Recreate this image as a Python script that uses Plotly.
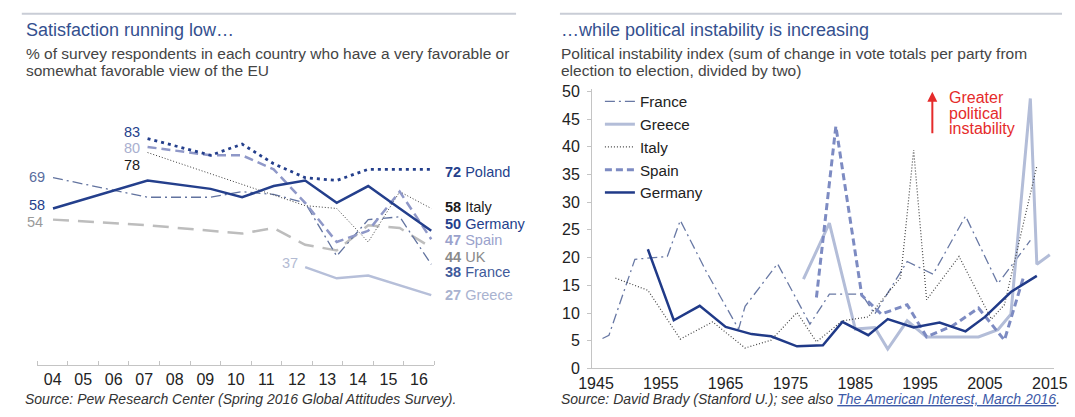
import plotly.graph_objects as go

W, H = 1075, 417

# ---- Left panel: favourable view of the EU (% of respondents), Pew survey years
pew_years = [2004, 2007, 2009, 2010, 2011, 2012, 2013, 2014, 2015, 2016]
year_labels = ["04", "05", "06", "07", "08", "09", "10", "11", "12", "13", "14", "15", "16"]
fav_poland = [None, 83, 77, 81, 74, 69, 68, 72, 72, 72]
fav_italy = [None, 78, None, None, None, 59, 58, 46, 64, 58]
fav_germany = [58, 68, 65, 62, 66, 68, 60, 66, 58, 50]
fav_spain = [None, 80, 77, 77, 72, 60, 46, 50, 64, 47]
fav_uk = [54, 52, 50, 49, 51, 45, 43, 52, 51, 44]
fav_france = [69, 62, 62, 64, 63, 60, 41, 54, 55, 38]
fav_greece = [None, None, None, None, None, 37, 33, 34, None, 27]

# ---- Right panel: political instability index by election year
france_years = [1946, 1947, 1951, 1956, 1958, 1962, 1967, 1968, 1973, 1978, 1981, 1986, 1988, 1993, 1997, 2002, 2007, 2012]
france_index = [5.4, 6.0, 19.7, 20.2, 26.7, 17.5, 7.1, 11.2, 18.9, 8.0, 13.4, 13.4, 9.8, 19.3, 17.0, 27.5, 15.3, 23.1]
greece_years = [1977, 1981, 1985, 1988, 1990, 1993, 1996, 2000, 2004, 2007, 2009, 2012, 2013, 2015]
greece_index = [16.1, 26.2, 7.1, 7.4, 3.5, 8.6, 5.7, 5.7, 5.7, 7.0, 9.8, 48.7, 18.8, 20.5]
italy_years = [1948, 1953, 1958, 1963, 1968, 1972, 1976, 1979, 1983, 1987, 1992, 1994, 1996, 2001, 2006, 2008, 2013]
italy_index = [16.3, 14.1, 5.3, 8.4, 3.7, 5.1, 10.1, 4.8, 8.6, 9.3, 16.4, 39.4, 12.4, 20.2, 8.9, 11.5, 36.5]
spain_years = [1979, 1982, 1986, 1989, 1993, 1996, 2000, 2004, 2008, 2011]
spain_index = [12.8, 43.7, 13.2, 9.8, 11.5, 5.7, 7.7, 10.9, 5.1, 16.7]
germany_years = [1953, 1957, 1961, 1965, 1969, 1972, 1976, 1980, 1983, 1987, 1990, 1994, 1998, 2002, 2005, 2009, 2013]
germany_index = [21.5, 8.7, 11.3, 7.5, 6.2, 5.8, 4.0, 4.2, 8.4, 6.0, 8.9, 7.4, 8.3, 6.7, 9.3, 13.8, 16.7]
decade_ticks = [1945, 1955, 1965, 1975, 1985, 1995, 2005, 2015]

FONT = "Arial, Liberation Sans, sans-serif"
NAVY = "#243f8c"


def fx(p):
    return p / W


def fy(p):
    return 1 - p / H


fig = go.Figure()

# Left panel lines: (name, values, colour, width, dash, label colour, label nudge in px)
left_series = [
    ("UK", fav_uk, "#bdbdbd", 2.5, "16px,9px", "#8a8a8a", -9),
    ("Greece", fav_greece, "#b6bfd9", 2.5, "solid", "#a9b3d0", 0),
    ("France", fav_france, "#62739f", 1.3, "10px,4px,2px,4px", "#3f5b9b", -8),
    ("Italy", fav_italy, "#3a3a3a", 1.0, "1px,2px", "#1a1a1a", 1),
    ("Spain", fav_spain, "#8f98c8", 2.5, "9px,5px", "#9aa2cc", -1),
    ("Poland", fav_poland, NAVY, 2.8, "3px,4px", NAVY, -3),
    ("Germany", fav_germany, NAVY, 2.5, "solid", NAVY, 7),
]
for name, vals, col, w, dash, _, _ in left_series:
    fig.add_trace(go.Scatter(
        x=pew_years, y=vals, mode="lines", name=name, showlegend=False,
        connectgaps=True, line=dict(color=col, width=w, dash=dash),
        xaxis="x", yaxis="y", hoverinfo="skip"))

# empty trace so the year-label axis of the left panel gets drawn
fig.add_trace(go.Scatter(x=[], y=[], mode="lines", showlegend=False,
                         xaxis="x3", yaxis="y", hoverinfo="skip"))

# Right panel lines, in legend order
right_series = [
    ("France", france_years, france_index, "#6878a4", 1.3, "10px,4px,2px,4px"),
    ("Greece", greece_years, greece_index, "#b3bdd8", 3.0, "solid"),
    ("Italy", italy_years, italy_index, "#444444", 1.2, "1px,2px"),
    ("Spain", spain_years, spain_index, "#7d8bc2", 3.0, "7px,4px"),
    ("Germany", germany_years, germany_index, "#203a88", 2.5, "solid"),
]
for name, xs, ys, col, w, dash in right_series:
    fig.add_trace(go.Scatter(
        x=xs, y=ys, mode="lines", name=name, legendgroup=name,
        line=dict(color=col, width=w, dash=dash),
        xaxis="x2", yaxis="y2", hoverinfo="skip"))

annotations = []

# End-of-line labels (value + country) for 2016
for name, vals, col, w, dash, lcol, nudge in left_series:
    last = vals[-1]
    annotations.append(dict(
        x=pew_years[-1], y=last, xref="x", yref="y", xanchor="left", yanchor="middle",
        xshift=12, yshift=nudge, showarrow=False,
        text=f"<b>{last}</b> {name}", font=dict(size=14.5, color=lcol)))

# Starting values
start_labels = [
    (pew_years[1], fav_poland[1], NAVY, -6, 7),
    (pew_years[1], fav_spain[1], "#a9afcf", -6, -1),
    (pew_years[1], fav_italy[1], "#1a1a1a", -6, -12),
    (pew_years[0], fav_france[0], "#5a6d9e", -6, 1),
    (pew_years[0], fav_germany[0], NAVY, -6, 3),
    (pew_years[0], fav_uk[0], "#9a9a9a", -8, -2),
    (pew_years[5], fav_greece[5], "#b3bbd3", -5, 4),
]
for xv, yv, col, xs, ys in start_labels:
    annotations.append(dict(
        x=xv, y=yv, xref="x", yref="y", xanchor="right", yanchor="middle",
        xshift=xs, yshift=ys, showarrow=False, text=str(yv),
        font=dict(size=14.5, color=col)))

TITLE_COL = "#34508f"
SUB_COL = "#444444"
# Panel titles, subtitles and sources
texts = [
    dict(x=fx(10), y=fy(25), text="Satisfaction running low…", font=dict(size=18, color=TITLE_COL)),
    dict(x=fx(10), y=fy(49), text="% of survey respondents in each country who have a very favorable or",
         font=dict(size=15.5, color=SUB_COL)),
    dict(x=fx(10), y=fy(67), text="somewhat favorable view of the EU", font=dict(size=15.5, color=SUB_COL)),
    dict(x=fx(559), y=fy(25), text="…while political instability is increasing", font=dict(size=18, color=TITLE_COL)),
    dict(x=fx(559), y=fy(49), text="Political instability index (sum of change in vote totals per party from",
         font=dict(size=15.5, color=SUB_COL)),
    dict(x=fx(559), y=fy(67), text="election to election, divided by two)", font=dict(size=15.5, color=SUB_COL)),
    dict(x=fx(9), y=fy(408), text="<i>Source: Pew Research Center (Spring 2016 Global Attitudes Survey).</i>",
         font=dict(size=14, color="#333333")),
    dict(x=fx(559), y=fy(408),
         text="<i>Source: David Brady (Stanford U.); see also "
              "<span style='color:#3d5aa8;text-decoration:underline'>The American Interest, March 2016</span>.</i>",
         font=dict(size=14, color="#333333")),
]
for a in texts:
    a.update(xref="paper", yref="paper", xanchor="left", yanchor="middle", showarrow=False)
annotations += texts

# "Greater political instability" note with upward arrow
RED = "#e52b2b"
for i, word in enumerate(["Greater", "political", "instability"]):
    annotations.append(dict(
        x=fx(957), y=fy(95 + 16 * i), xref="paper", yref="paper", xanchor="left", yanchor="middle",
        showarrow=False, text=word, font=dict(size=16, color=RED)))
annotations.append(dict(
    x=fx(942), y=fy(89), xref="paper", yref="paper", text="", showarrow=True,
    ax=0, ay=43, arrowhead=2, arrowsize=1, arrowwidth=2, arrowcolor=RED))

shapes = [
    dict(type="line", xref="paper", yref="paper", x0=fx(8), x1=fx(515), y0=fy(8), y1=fy(8),
         line=dict(color="#c9cdd6", width=2)),
    dict(type="line", xref="paper", yref="paper", x0=fx(560), x1=fx(1075), y0=fy(8), y1=fy(8),
         line=dict(color="#c9cdd6", width=2)),
]

AXIS_COL = "#c4c4c4"
fig.update_layout(
    width=W, height=H,
    margin=dict(l=0, r=0, t=0, b=0),
    paper_bgcolor="white", plot_bgcolor="white",
    font=dict(family=FONT, size=16, color="#222222"),
    # left panel: data axes (hidden) plus a category axis for year labels
    xaxis=dict(domain=[fx(24), fx(431)], range=[2003.505, 2016.093], visible=False),
    yaxis=dict(domain=[fy(372), fy(120)], range=[2.14, 89.03], visible=False),
    xaxis3=dict(overlaying="x", anchor="y", range=[-0.5, 12.5],
                tickmode="array", tickvals=list(range(13)), ticktext=year_labels,
                showline=True, linecolor=AXIS_COL, linewidth=1, ticks="",
                minor=dict(tickmode="array", tickvals=[i - 0.5 for i in range(14)],
                           ticks="inside", ticklen=4, tickcolor=AXIS_COL),
                showgrid=False, zeroline=False, tickfont=dict(size=16, color="#222222")),
    # right panel
    xaxis2=dict(domain=[fx(593), fx(1067)], anchor="y2", range=[1944.4, 2015.68],
                tickmode="array", tickvals=decade_ticks, showline=True, linecolor=AXIS_COL,
                ticks="", showgrid=False, zeroline=False, ticklabeloverflow="allow",
                tickfont=dict(size=16, color="#222222")),
    yaxis2=dict(domain=[fy(376), fy(86)], anchor="x2", range=[0, 50.43], dtick=5, tick0=0,
                showline=True, linecolor=AXIS_COL, ticks="outside", ticklen=4, tickcolor=AXIS_COL,
                showgrid=False, zeroline=False, ticklabelstandoff=4,
                tickfont=dict(size=16, color="#222222")),
    legend=dict(x=fx(601), y=fy(82), xanchor="left", yanchor="top", bgcolor="rgba(0,0,0,0)",
                font=dict(size=15.2, color="#222222"), tracegroupgap=0, traceorder="normal"),
    annotations=annotations,
    shapes=shapes,
)

fig.write_html("out.html")
